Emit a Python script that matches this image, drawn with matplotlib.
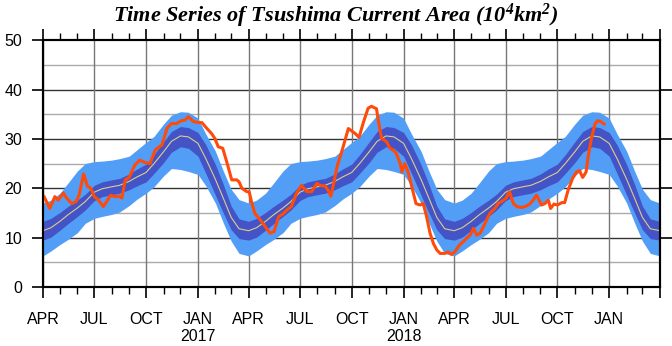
import numpy as np
import pandas as pd
import matplotlib
matplotlib.use('Agg')
import matplotlib.pyplot as plt
import matplotlib.dates as mdates
from matplotlib.ticker import FuncFormatter

plt.rcParams['font.family'] = 'Liberation Sans'
plt.rcParams['mathtext.fontset'] = 'custom'
plt.rcParams['mathtext.rm'] = 'Liberation Serif:bold:italic'
plt.rcParams['mathtext.it'] = 'Liberation Serif:bold:italic'

# climatology for one year, on the 1st and 15th of each month, Apr 1 .. Mar 15
clim_mean = [11.4, 12.0, 13.3, 14.6, 16.0, 17.3, 19.2, 19.9, 20.3, 20.6, 21.4, 22.3,
             23.2, 25.0, 27.4, 29.5, 30.6, 30.4, 29.1, 26.0, 21.8, 18.0, 14.1, 11.8]
dark_hi = [13.3, 13.9, 15.1, 16.3, 17.6, 18.8, 20.6, 21.3, 21.7, 22.0, 22.9, 23.9,
           24.9, 26.8, 29.4, 31.5, 32.5, 32.3, 31.3, 28.8, 24.8, 20.8, 16.4, 13.8]
dark_lo = [9.5, 10.1, 11.5, 12.8, 14.3, 15.6, 17.5, 18.3, 18.7, 19.0, 19.7, 20.5,
           21.3, 23.0, 25.2, 27.3, 28.4, 28.1, 26.5, 23.0, 18.6, 15.0, 11.6, 9.8]
light_hi = [17.0, 17.6, 19.0, 21.0, 23.5, 25.0, 25.4, 25.5, 25.7, 26.0, 26.5, 27.8,
            29.3, 30.5, 33.0, 34.8, 35.5, 35.4, 34.2, 31.0, 27.5, 23.5, 19.8, 17.7]
light_lo = [6.3, 7.3, 8.6, 9.6, 11.0, 12.9, 13.9, 14.3, 14.7, 15.2, 16.5, 17.8,
            19.0, 20.3, 22.5, 24.0, 23.8, 23.4, 22.8, 20.5, 17.0, 13.0, 9.3, 6.8]

# observed series: days since 2016-04-01 and area (10^4 km^2)
obs_day = [2, 12, 21, 27, 36, 42, 51, 59, 64, 72,
           79, 85, 91, 98, 107, 113, 120, 128, 135, 140,
           146, 153, 163, 172, 181, 190, 199, 206, 211, 220,
           228, 237, 246, 252, 258, 267, 276, 282, 291, 299,
           305, 311, 319, 326, 335, 344, 348, 353, 362, 366,
           370, 376, 385, 394, 403, 410, 418, 427, 433, 441,
           450, 459, 468, 477, 486, 492, 501, 506, 511, 516,
           522, 532, 542, 554, 561, 568, 577, 583, 592, 595,
           601, 610, 616, 622, 627, 634, 637, 642, 648, 654,
           662, 669, 675, 681, 687, 693, 699, 705, 713, 719,
           725, 731, 739, 746, 752, 758, 764, 770, 776, 784,
           793, 802, 808, 814, 822, 828, 835, 841, 850, 858,
           864, 870, 876, 885, 891, 897, 901, 907, 913, 921,
           926, 932, 940, 947, 952, 958, 964, 968, 974, 980,
           985, 990, 996]
obs_val = [18.3, 15.9, 18.3, 17.6, 19.0, 18.0, 16.9, 17.3, 18.6, 22.9,
           20.4, 20.0, 18.3, 17.7, 16.3, 17.3, 18.6, 18.3, 18.4, 18.0,
           21.7, 22.2, 24.7, 25.7, 25.2, 25.0, 27.7, 28.4, 28.7, 32.1,
           33.1, 33.1, 33.7, 33.8, 34.5, 33.5, 33.3, 33.3, 32.1, 31.1,
           30.1, 28.4, 28.1, 25.4, 21.7, 21.7, 21.3, 20.0, 19.3, 19.3,
           17.3, 14.9, 13.7, 12.3, 10.9, 11.2, 14.2, 14.9, 15.6, 16.3,
           19.0, 20.6, 19.3, 19.3, 21.0, 20.6, 20.4, 19.6, 18.4, 21.0,
           24.4, 28.1, 32.1, 31.1, 30.3, 33.1, 36.2, 36.6, 36.1, 33.8,
           30.1, 29.4, 28.1, 27.7, 27.1, 25.0, 23.3, 25.0, 23.3, 20.6,
           16.9, 16.6, 16.9, 14.2, 10.9, 8.8, 7.5, 6.8, 6.8, 7.1,
           6.6, 7.1, 8.5, 9.2, 9.9, 10.5, 11.9, 10.5, 10.9, 12.8,
           14.9, 15.9, 16.9, 17.3, 18.0, 19.3, 16.9, 16.3, 16.1, 16.4,
           16.8, 17.6, 18.6, 16.6, 16.9, 17.6, 15.9, 16.8, 16.6, 17.1,
           17.1, 19.6, 22.0, 23.3, 23.6, 22.2, 23.3, 26.7, 30.4, 33.1,
           33.7, 33.5, 33.0]
year_labels = [2017, 2018]

start, end = '2016-04-01', '2019-04-01'
clim_dates = pd.date_range(start, end, freq='SMS')


def tile(a):
    return np.r_[np.tile(a, 3), a[0]]


obs_dates = pd.Timestamp(start) + pd.to_timedelta(obs_day, unit='D')

fig = plt.figure(figsize=(6.72, 3.46), dpi=100)
ax = fig.add_axes([0.064, 0.1705, 0.918, 0.7135])

ax.fill_between(clim_dates, tile(light_lo), tile(light_hi), color='#529ef7', lw=0, zorder=2)
ax.fill_between(clim_dates, tile(dark_lo), tile(dark_hi), color='#4453c6', lw=0, zorder=3)
ax.plot(clim_dates, tile(clim_mean), color='#d9cf8c', lw=0.8, zorder=4)
ax.plot(obs_dates, obs_val, color='#ff4a0a', lw=2.2, zorder=5)

# grid
for v in range(5, 50, 10):
    ax.axhline(v, color='#aaaaaa', lw=1, zorder=0)
for v in range(10, 50, 10):
    ax.axhline(v, color='#333333', lw=1, zorder=0)
ax.grid(axis='x', which='major', color='#777777', lw=1, zorder=0)

ax.set_xlim(pd.Timestamp(start), pd.Timestamp(end))
ax.set_ylim(0, 50)
ax.set_yticks(range(0, 51, 10))

ax.xaxis.set_major_locator(mdates.MonthLocator(bymonth=[1, 4, 7, 10]))
ax.xaxis.set_minor_locator(mdates.MonthLocator())


def fmt(x, pos):
    d = mdates.num2date(x)
    if d.year == 2019 and d.month == 4:
        return ''
    s = d.strftime('%b').upper()
    if d.month == 1 and d.year in year_labels:
        s += '\n%d' % d.year
    return s


ax.xaxis.set_major_formatter(FuncFormatter(fmt))
ax.tick_params(axis='x', which='major', direction='out', length=8, width=1.2,
               top=True, labelsize=11.5, pad=10)
ax.tick_params(axis='x', which='minor', direction='out', length=5, width=1,
               top=True)
ax.tick_params(axis='y', direction='out', length=8, width=1.2, labelsize=11.5, pad=7)

# right-side outward ticks
ax2 = ax.twinx()
ax2.set_ylim(0, 50)
ax2.set_yticks([10, 20, 30, 40])
ax2.tick_params(axis='y', direction='out', length=9, width=1.2, labelright=False)

for a in (ax, ax2):
    for s in a.spines.values():
        s.set_linewidth(1.5)

fig.text(0.5, 0.953, r'Time Series of Tsushima Current Area (10$^{4}$km$^{2}$)',
         ha='center', va='center', fontsize=16, family='Liberation Serif',
         weight='bold', style='italic')

fig.savefig('out.png', dpi=100)
